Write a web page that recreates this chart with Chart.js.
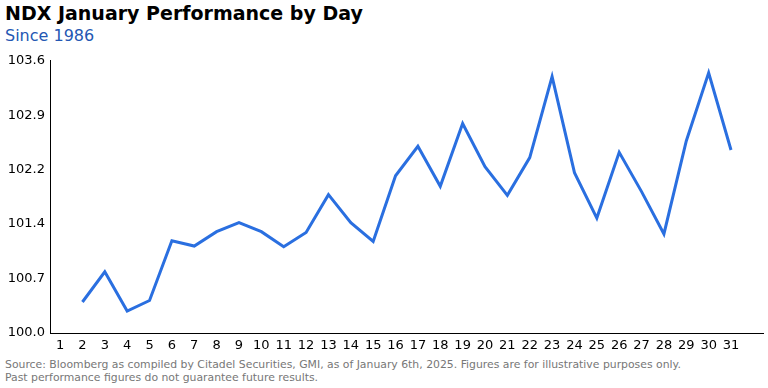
<!DOCTYPE html>
<html>
<head>
<meta charset="utf-8">
<script src="https://cdn.jsdelivr.net/npm/chart.js@4"></script>
<style>
  body { margin: 0; width: 768px; height: 388px; background: #fff; font-family: "DejaVu Sans", sans-serif; position: relative; overflow: hidden; }
  #title { position: absolute; left: 5px; top: 2px; font-size: 19px; font-weight: bold; color: #000; }
  #subtitle { position: absolute; left: 5px; top: 26px; font-size: 16px; color: #2457b3; }
  #wrap { position: absolute; left: 0; top: 48px; width: 768px; height: 305px; }
  #note { position: absolute; left: 5px; top: 358px; font-size: 10.85px; line-height: 13px; color: #777; }
</style>
</head>
<body>
<div id="title">NDX January Performance by Day</div>
<div id="subtitle">Since 1986</div>
<div id="wrap"><canvas id="myChart"></canvas></div>
<div id="note">Source: Bloomberg as compiled by Citadel Securities, GMI, as of January 6th, 2025. Figures are for illustrative purposes only.<br>Past performance figures do not guarantee future results.</div>
<script>
// day of month, 1 has no value
var days = [1, 2, 3, 4, 5, 6, 7, 8, 9, 10, 11, 12, 13, 14, 15, 16, 17, 18, 19, 20, 21, 22, 23, 24, 25, 26, 27, 28, 29, 30, 31];
var perf = [null, 100.41, 100.81, 100.29, 100.43, 101.22, 101.15, 101.34, 101.46, 101.34, 101.14, 101.33, 101.83, 101.46, 101.21,
  102.08, 102.47, 101.94, 102.77, 102.20, 101.82, 102.32, 103.39, 102.12, 101.52, 102.39, 101.87, 101.31, 102.54, 103.44, 102.42];
var yTicks = [100, 100.72, 101.44, 102.16, 102.88, 103.6];

var points = days.map((d, i) => {
  return { x: d, y: perf[i] }
});

Chart.defaults.font.family = '"DejaVu Sans", sans-serif';

const ctx = document.getElementById('myChart');

new Chart(ctx, {
  type: 'line',
  data: {
    datasets: [{
      data: points,
      borderColor: '#2a6fe0',
      borderWidth: 3,
      pointRadius: 0,
      tension: 0,
      spanGaps: false
    }]
  },
  options: {
    responsive: true,
    maintainAspectRatio: false,
    animation: false,
    layout: { padding: { top: 10, right: 5, left: 0, bottom: 0 } },
    plugins: {
      legend: { display: false },
      tooltip: { enabled: false }
    },
    scales: {
      x: {
        type: 'linear',
        min: 0.55,
        max: 32.43,
        afterBuildTicks: function (scale) {
          scale.ticks = days.map(d => ({ value: d }));
        },
        afterFit: function (scale) { scale.height = 20; },
        grid: { drawOnChartArea: false, drawTicks: false },
        border: { display: true, color: '#000', width: 1 },
        ticks: { color: '#000', font: { size: 13 }, padding: 5, autoSkip: false, maxRotation: 0 }
      },
      y: {
        min: 100,
        max: 103.6,
        afterBuildTicks: function (scale) {
          scale.ticks = yTicks.map(v => ({ value: v }));
        },
        afterFit: function (scale) { scale.width = 50; },
        grid: { drawOnChartArea: false, drawTicks: false },
        border: { display: true, color: '#000', width: 1 },
        ticks: {
          color: '#000',
          font: { size: 13 },
          padding: 5,
          callback: function (v) { return v.toFixed(1); }
        }
      }
    }
  }
});
</script>
</body>
</html>
